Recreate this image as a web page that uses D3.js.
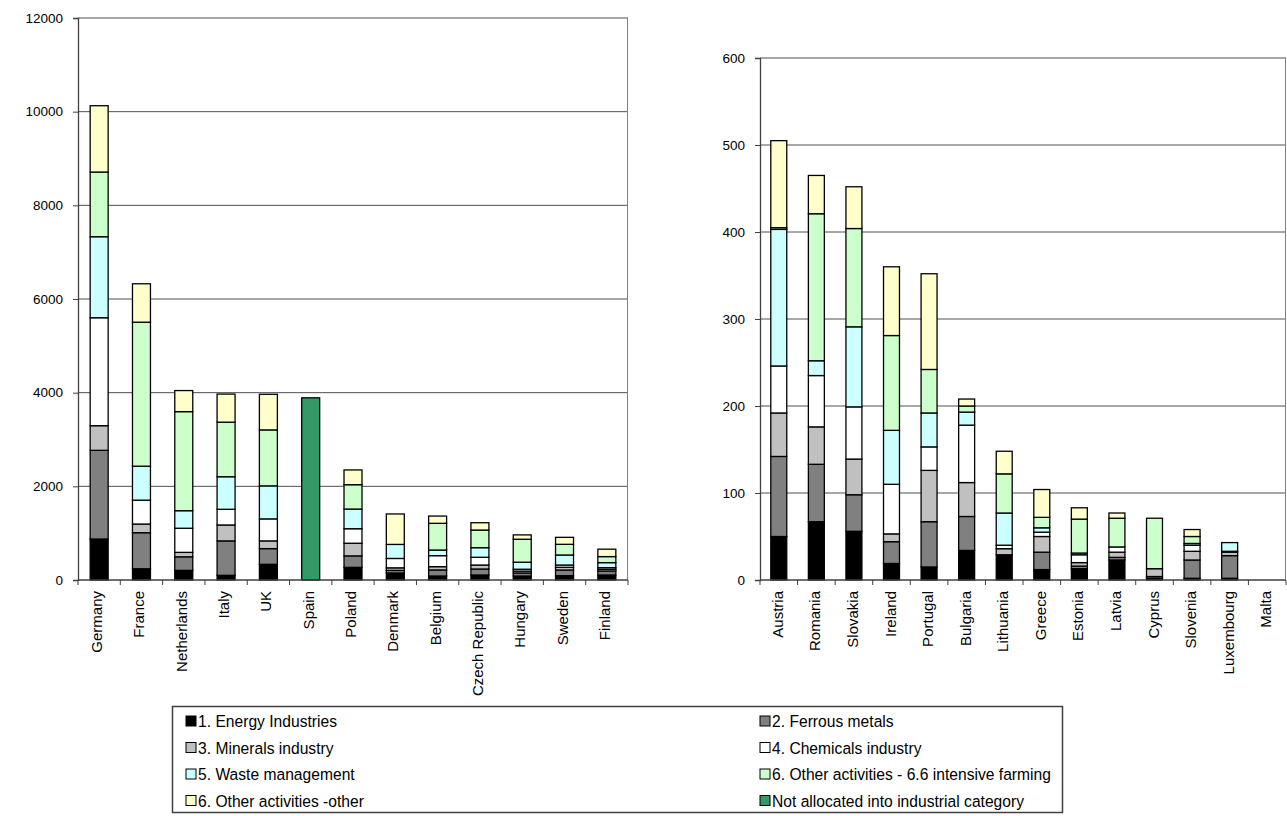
<!DOCTYPE html>
<html>
<head>
<meta charset="utf-8">
<script src="https://cdn.jsdelivr.net/npm/d3@7"></script>
<style>
  html, body { margin: 0; padding: 0; background: #fff; }
  svg { display: block; font-family: "Liberation Sans", Arial, sans-serif; }
</style>
</head>
<body>
<svg id="chart" width="1287" height="816"></svg>
<script>
// Series keys and legend labels
const seriesKeys = ["energy", "ferrous", "minerals", "chemicals", "waste", "farming", "other", "notAlloc"];
const seriesLabels = [
  "1. Energy Industries", "2. Ferrous metals",
  "3. Minerals industry", "4. Chemicals industry",
  "5. Waste management", "6. Other activities - 6.6 intensive farming",
  "6. Other activities -other", "Not allocated into industrial category"
];
const seriesColors = ["#000000", "#808080", "#C0C0C0", "#FFFFFF", "#CCFFFF", "#CCFFCC", "#FFFFCC", "#339966"];

// Larger emitters
const leftCountries = ["Germany", "France", "Netherlands", "Italy", "UK", "Spain", "Poland", "Denmark", "Belgium", "Czech Republic", "Hungary", "Sweden", "Finland"];
const energyL    = [875, 240, 205, 100, 335, 0, 270, 150, 85, 107, 85, 92, 107];
const ferrousL   = [1894, 770, 290, 735, 335, 0, 245, 55, 130, 128, 65, 122, 85];
const mineralsL  = [526, 185, 95, 340, 165, 0, 270, 55, 70, 85, 40, 57, 36];
const chemicalsL = [2305, 510, 515, 335, 470, 0, 310, 200, 235, 165, 40, 49, 36];
const wasteL     = [1730, 725, 375, 695, 705, 0, 420, 300, 120, 205, 150, 214, 107];
const farmingL   = [1381, 3075, 2115, 1165, 1195, 0, 520, 0, 570, 377, 490, 228, 129];
const otherL     = [1416, 820, 450, 600, 760, 0, 315, 650, 155, 156, 93, 149, 158];
const notAllocL  = [0, 0, 0, 0, 0, 3890, 0, 0, 0, 0, 0, 0, 0];
const leftTicks  = [0, 2000, 4000, 6000, 8000, 10000, 12000];

// Smaller emitters
const rightCountries = ["Austria", "Romania", "Slovakia", "Ireland", "Portugal", "Bulgaria", "Lithuania", "Greece", "Estonia", "Latvia", "Cyprus", "Slovenia", "Luxembourg", "Malta"];
const energyR    = [50, 67, 56, 19, 15, 34, 29, 12, 13, 23, 2, 2, 2, 0];
const ferrousR   = [92, 66, 42, 25, 52, 39, 0, 20, 3, 3, 2, 21, 26, 0];
const mineralsR  = [50, 43, 41, 9, 59, 39, 7, 18, 4, 6, 9, 10, 4, 0];
const chemicalsR = [54, 59, 60, 57, 27, 66, 4, 5, 9, 6, 0, 7, 1, 0];
const wasteR     = [157, 17, 92, 62, 39, 15, 37, 5, 2, 0, 0, 2, 10, 0];
const farmingR   = [2, 169, 113, 109, 50, 7, 45, 12, 39, 33, 58, 8, 0, 0];
const otherR     = [100, 44, 48, 79, 110, 8, 26, 32, 13, 6, 0, 8, 0, 0];
const notAllocR  = [0, 0, 0, 0, 0, 0, 0, 0, 0, 0, 0, 0, 0, 0];
const rightTicks = [0, 100, 200, 300, 400, 500, 600];

function buildRows(countries, cols) {
  return countries.map((c, i) => {
    const row = { country: c };
    seriesKeys.forEach((k, j) => { row[k] = cols[j][i]; });
    return row;
  });
}

const leftRows = buildRows(leftCountries, [energyL, ferrousL, mineralsL, chemicalsL, wasteL, farmingL, otherL, notAllocL]);
const rightRows = buildRows(rightCountries, [energyR, ferrousR, mineralsR, chemicalsR, wasteR, farmingR, otherR, notAllocR]);

const svg = d3.select("#chart");
const color = d3.scaleOrdinal().domain(seriesKeys).range(seriesColors);

function drawPanel(rows, ticks, opt) {
  const x = d3.scaleBand()
    .domain(rows.map(d => d.country))
    .range([opt.x0, opt.x1])
    .paddingInner(0.575)
    .paddingOuter(0.2875);
  const y = d3.scaleLinear().domain([0, ticks[ticks.length - 1]]).range([opt.yBase, opt.yTop]);

  const g = svg.append("g");

  // horizontal gridlines
  g.append("g").selectAll("line")
    .data(ticks.filter(t => t > 0))
    .join("line")
    .attr("x1", opt.x0).attr("x2", opt.x1)
    .attr("y1", d => y(d)).attr("y2", d => y(d))
    .attr("stroke", "#505050").attr("stroke-width", 1);

  // right border of plot area
  g.append("line")
    .attr("x1", opt.x1 - 0.5).attr("x2", opt.x1 - 0.5)
    .attr("y1", opt.yTop).attr("y2", opt.yBase)
    .attr("stroke", "#808080").attr("stroke-width", 1);

  // stacked bars
  const stacked = d3.stack().keys(seriesKeys)(rows);
  g.append("g").selectAll("g")
    .data(stacked)
    .join("g")
    .attr("fill", d => color(d.key))
    .selectAll("rect")
    .data(d => d.filter(s => s[1] - s[0] > 0))
    .join("rect")
    .attr("x", d => x(d.data.country))
    .attr("width", x.bandwidth())
    .attr("y", d => y(d[1]))
    .attr("height", d => y(d[0]) - y(d[1]))
    .attr("stroke", "#000")
    .attr("stroke-width", 1.3);

  // y axis
  const yAxis = d3.axisLeft(y).tickValues(ticks).tickSize(5).tickPadding(10).tickFormat(d3.format("d"));
  const ya = g.append("g").attr("transform", `translate(${opt.x0},0)`).call(yAxis);
  ya.select(".domain").attr("stroke", "#404040").attr("stroke-width", 1.3);
  ya.selectAll(".tick line").attr("stroke", "#404040");
  ya.selectAll(".tick text").attr("font-size", 13.5).attr("fill", "#000")
    .attr("font-family", "'Liberation Sans', Arial, sans-serif");

  // x axis: category ticks between bars
  const step = x.step();
  const boundaries = d3.range(rows.length + 1).map(i => opt.x0 + i * step);
  g.append("line")
    .attr("x1", opt.x0).attr("x2", opt.x1)
    .attr("y1", opt.yBase).attr("y2", opt.yBase)
    .attr("stroke", "#404040").attr("stroke-width", 1.3);
  g.append("g").selectAll("line")
    .data(boundaries)
    .join("line")
    .attr("x1", d => d).attr("x2", d => d)
    .attr("y1", opt.yBase).attr("y2", opt.yBase + 5)
    .attr("stroke", "#404040");

  // rotated category labels
  g.append("g").selectAll("text")
    .data(rows)
    .join("text")
    .attr("transform", d => `translate(${x(d.country) + x.bandwidth() / 2 + 3 + opt.labelShift},${opt.yBase + 11}) rotate(-90)`)
    .attr("text-anchor", "end")
    .attr("font-size", 15)
    .attr("fill", "#000")
    .text(d => d.country);
}

drawPanel(leftRows, leftTicks, { x0: 78, x1: 628, yTop: 18, yBase: 580, labelShift: 0 });
drawPanel(rightRows, rightTicks, { x0: 760, x1: 1286, yTop: 58, yBase: 580, labelShift: 1 });

// legend
const legend = svg.append("g");
legend.append("rect")
  .attr("x", 172.5).attr("y", 706.5).attr("width", 890).attr("height", 106)
  .attr("fill", "#fff").attr("stroke", "#404040").attr("stroke-width", 1.5);

const colX = [186, 760];
const rowY = [721, 747.5, 774, 800.5];
const items = legend.selectAll("g.item")
  .data(seriesKeys.map((k, i) => ({ key: k, label: seriesLabels[i], col: i % 2, row: Math.floor(i / 2) })))
  .join("g")
  .attr("class", "item")
  .attr("transform", d => `translate(${colX[d.col]},${rowY[d.row]})`);
items.append("rect")
  .attr("x", 0).attr("y", -5).attr("width", 10).attr("height", 10)
  .attr("fill", d => color(d.key)).attr("stroke", "#000").attr("stroke-width", 1);
items.append("text")
  .attr("transform", "translate(12,0) scale(0.92,1)")
  .attr("dy", "0.36em")
  .attr("font-size", 17)
  .attr("fill", "#000")
  .text(d => d.label);
</script>
</body>
</html>
